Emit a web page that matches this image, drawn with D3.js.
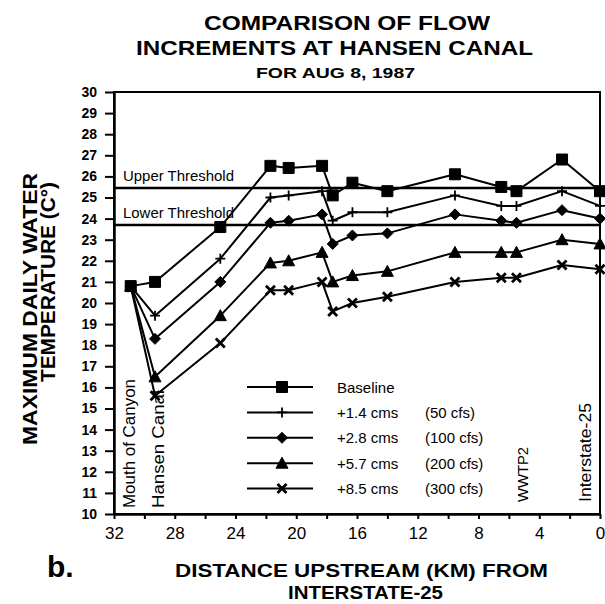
<!DOCTYPE html>
<html>
<head>
<meta charset="utf-8">
<script src="https://cdn.jsdelivr.net/npm/d3@7"></script>
<style>
body { margin: 0; background: #fff; }
svg { display: block; }
</style>
</head>
<body>
<svg width="605" height="604"></svg>
<script>
// distance upstream (km) of each station
var km = [30.9, 29.3, 25.0, 21.7, 20.5, 18.3, 17.6, 16.3, 14.0, 9.55, 6.5, 5.5, 2.5, 0];

// max daily water temperature (C) per flow increment
var baseline = [20.8, 21.0, 23.6, 26.5, 26.4, 26.5, 25.1, 25.7, 25.3, 26.1, 25.5, 25.3, 26.8, 25.3];
var plus14 = [20.8, 19.4, 22.1, 25.0, 25.1, 25.3, 23.9, 24.3, 24.3, 25.1, 24.6, 24.6, 25.3, 24.6];
var plus28 = [20.8, 18.3, 21.0, 23.8, 23.9, 24.2, 22.8, 23.2, 23.3, 24.2, 23.9, 23.8, 24.4, 24.0];
var plus57 = [20.8, 16.5, 19.4, 21.9, 22.0, 22.4, 21.0, 21.3, 21.5, 22.4, 22.4, 22.4, 23.0, 22.8];
var plus85 = [20.8, 15.6, 18.1, 20.6, 20.6, 21.0, 19.6, 20.0, 20.3, 21.0, 21.2, 21.2, 21.8, 21.6];

var seriesNames = ['Baseline', '+1.4 cms', '+2.8 cms', '+5.7 cms', '+8.5 cms'];
var cfsNames = ['', '(50 cfs)', '(100 cfs)', '(200 cfs)', '(300 cfs)'];
var markerTypes = ['square', 'plus', 'diamond', 'triangle', 'cross'];

var thresholdValues = [25.45, 23.7];
var thresholdNames = ['Upper Threshold', 'Lower Threshold'];

var siteKm = [31.0, 29.1, 5.1, 1.0];
var siteNames = ['Mouth of Canyon', 'Hansen Canal', 'WWTP2', 'Interstate-25'];

var font = "'Liberation Sans', Arial, Helvetica, sans-serif";

var x = d3.scaleLinear().domain([32, 0]).range([114, 600]);
var y = d3.scaleLinear().domain([10, 30]).range([514, 92]);

var svg = d3.select('svg').attr('font-family', font);

// titles
var addText = function(txt, px, py, size, weight, len, anchor) {
  var t = svg.append('text')
    .attr('x', px)
    .attr('y', py)
    .attr('font-size', size + 'px')
    .attr('font-weight', weight)
    .attr('text-anchor', anchor || 'start')
    .text(txt);
  if (len) t.attr('textLength', len).attr('lengthAdjust', 'spacingAndGlyphs');
  return t;
};

addText('COMPARISON OF FLOW', 204, 30, 21, 'bold', 286);
addText('INCREMENTS AT HANSEN CANAL', 136, 55, 21, 'bold', 397);
addText('FOR AUG 8, 1987', 256, 78, 15.5, 'bold', 159);

addText('b.', 47, 577, 30, 'bold');
addText('DISTANCE UPSTREAM (KM) FROM', 175, 577, 19, 'bold', 373);
addText('INTERSTATE-25', 288, 599, 19, 'bold', 155);

svg.append('text')
  .attr('transform', 'translate(37,309) rotate(-90)')
  .attr('text-anchor', 'middle')
  .attr('font-size', '21px')
  .attr('font-weight', 'bold')
  .attr('textLength', 272)
  .attr('lengthAdjust', 'spacingAndGlyphs')
  .text('MAXIMUM DAILY WATER');

svg.append('text')
  .attr('transform', 'translate(55,282) rotate(-90)')
  .attr('text-anchor', 'middle')
  .attr('font-size', '21px')
  .attr('font-weight', 'bold')
  .attr('textLength', 200)
  .attr('lengthAdjust', 'spacingAndGlyphs')
  .text('TEMPERATURE (C\u00B0)');

// axes
var yAxis = d3.axisLeft(y).ticks(20).tickSize(9).tickSizeOuter(0).tickPadding(8);
var gy = svg.append('g').attr('transform', 'translate(' + x(32) + ',0)').call(yAxis);
gy.selectAll('text').attr('font-size', '14px').attr('font-weight', 'bold').attr('font-family', font).attr('fill', '#000');

var xAxis = d3.axisBottom(x).ticks(16).tickSize(5).tickSizeOuter(0).tickPadding(8)
  .tickFormat(function(d) { return d % 4 === 0 ? d : ''; });
var gx = svg.append('g').attr('transform', 'translate(0,' + y(10) + ')').call(xAxis);
gx.selectAll('text').attr('font-size', '17px').attr('font-family', font).attr('fill', '#000');

[gx, gy].forEach(function(g) {
  g.select('.domain').attr('stroke', '#000').attr('stroke-width', 2.5);
  g.selectAll('.tick line').attr('stroke', '#000').attr('stroke-width', 2);
});

// frame
svg.append('rect')
  .attr('x', x(32))
  .attr('y', y(30))
  .attr('width', x(0) - x(32))
  .attr('height', y(10) - y(30))
  .attr('fill', 'none')
  .attr('stroke', '#000')
  .attr('stroke-width', 2);

// thresholds
thresholdValues.forEach(function(v, i) {
  svg.append('line')
    .attr('x1', x(32)).attr('x2', x(0))
    .attr('y1', y(v)).attr('y2', y(v))
    .attr('stroke', '#000')
    .attr('stroke-width', 2.5);
  addText(thresholdNames[i], 123, y(v) - 7, 15, 'normal', 111);
});

// site labels
siteNames.forEach(function(name, i) {
  var bottom = i < 2 ? 508 : 502;
  var sizes = [16, 16, 14, 16];
  var lens = [129, 118, 55, 99];
  svg.append('text')
    .attr('transform', 'translate(' + x(siteKm[i]) + ',' + bottom + ') rotate(-90)')
    .attr('dy', '0.36em')
    .attr('font-size', sizes[i] + 'px')
    .attr('textLength', lens[i])
    .attr('lengthAdjust', 'spacingAndGlyphs')
    .text(name);
});

// markers
var markerPath = {
  square: 'M-5.5,-5.5H5.5V5.5H-5.5Z',
  plus: 'M-5,0H5M0,-5V5',
  diamond: 'M0,-5.5L5.5,0L0,5.5L-5.5,0Z',
  triangle: 'M0,-6L6,5H-6Z',
  cross: 'M-4.5,-4.5L4.5,4.5M4.5,-4.5L-4.5,4.5'
};

var drawMarker = function(g, type, px, py) {
  var stroked = type === 'plus' || type === 'cross';
  g.append('path')
    .attr('d', markerPath[type])
    .attr('transform', 'translate(' + px + ',' + py + ')')
    .attr('fill', stroked ? 'none' : '#000')
    .attr('stroke', '#000')
    .attr('stroke-width', type === 'cross' ? 2.8 : (type === 'plus' ? 1.8 : 1))
    .attr('stroke-linejoin', 'round');
};

var allSeries = [baseline, plus14, plus28, plus57, plus85];
var line = d3.line()
  .x(function(d, i) { return x(km[i]); })
  .y(function(d) { return y(d); });

var linesGroup = svg.append('g');
allSeries.slice().reverse().forEach(function(vals, j) {
  var i = allSeries.length - 1 - j;
  linesGroup.append('path')
    .attr('d', line(vals))
    .attr('fill', 'none')
    .attr('stroke', '#000')
    .attr('stroke-width', 2)
    .attr('stroke-linejoin', 'round');
  vals.forEach(function(v, k) {
    drawMarker(linesGroup, markerTypes[i], x(km[k]), y(v));
  });
});

// legend
var legend = svg.append('g');
seriesNames.forEach(function(name, i) {
  var ry = 387 + i * 25.4;
  legend.append('line')
    .attr('x1', 247).attr('x2', 313)
    .attr('y1', ry).attr('y2', ry)
    .attr('stroke', '#000')
    .attr('stroke-width', 2);
  drawMarker(legend, markerTypes[i], 282, ry);
  legend.append('text')
    .attr('x', 337).attr('y', ry + 5.5)
    .attr('font-size', '15px')
    .text(name);
  legend.append('text')
    .attr('x', 425).attr('y', ry + 5.5)
    .attr('font-size', '15px')
    .text(cfsNames[i]);
});
</script>
</body>
</html>
